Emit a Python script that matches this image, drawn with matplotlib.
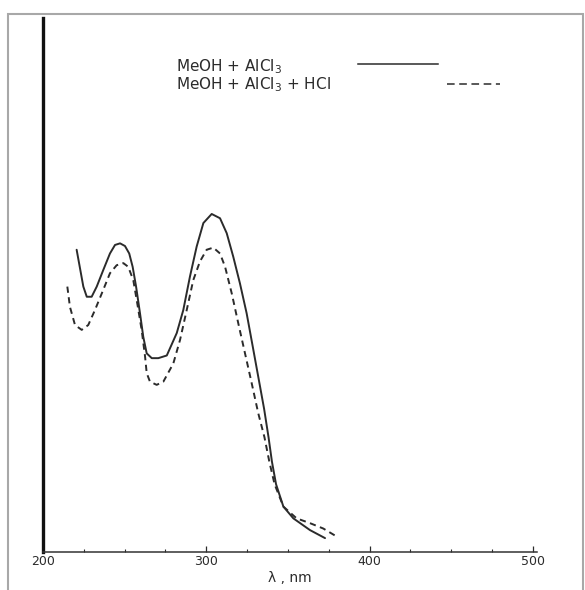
import numpy as np
import matplotlib.pyplot as plt
from matplotlib.patches import Rectangle


# =========================
# 1. data
# =========================

# MeOH + AlCl3 (solid)
wl_alcl3 = [220.6, 224.7, 226.8, 229.8, 232.9, 236.9, 241.0, 244.1, 247.2,
            250.2, 252.8, 254.9, 257.0, 259.4, 261.4, 263.5, 266.6, 270.6,
            275.8, 281.9, 285.9, 290.0, 294.1, 298.2, 303.3, 308.4, 312.5,
            316.5, 320.6, 324.7, 328.6, 332.3, 335.4, 338.1, 340.2, 342.7,
            347.2, 353.3, 363.5, 372.7]
abs_alcl3 = [0.566, 0.497, 0.478, 0.478, 0.497, 0.528, 0.559, 0.575, 0.578,
             0.573, 0.559, 0.534, 0.497, 0.447, 0.403, 0.372, 0.363, 0.363,
             0.368, 0.410, 0.453, 0.516, 0.572, 0.616, 0.633, 0.625, 0.597,
             0.553, 0.503, 0.447, 0.382, 0.320, 0.268, 0.215, 0.169, 0.127,
             0.085, 0.063, 0.041, 0.026]

# MeOH + AlCl3 + HCl (dashed)
wl_hcl = [214.9, 216.5, 219.6, 223.7, 227.7, 231.8, 236.9, 241.0, 245.1,
          249.2, 252.2, 255.3, 257.7, 260.4, 262.5, 263.5, 265.5, 269.6,
          273.7, 279.8, 283.9, 288.0, 292.0, 296.1, 300.2, 304.3, 308.4,
          311.5, 315.6, 319.6, 323.7, 327.8, 331.8, 335.6, 338.6, 341.8,
          347.2, 355.3, 363.5, 371.6, 379.8]
abs_hcl = [0.497, 0.459, 0.425, 0.416, 0.425, 0.453, 0.491, 0.522, 0.537,
           0.541, 0.534, 0.509, 0.466, 0.416, 0.366, 0.335, 0.319, 0.313,
           0.319, 0.353, 0.397, 0.453, 0.509, 0.544, 0.566, 0.570, 0.559,
           0.534, 0.484, 0.428, 0.372, 0.316, 0.260, 0.215, 0.169, 0.127,
           0.085, 0.063, 0.054, 0.044, 0.029]

major_ticks = [200, 300, 400, 500]
minor_ticks = [225, 250, 275, 325, 350, 375, 425, 450, 475]

label_alcl3 = "MeOH + AlCl$_3$"
label_hcl = "MeOH + AlCl$_3$ + HCl"
x_label = "λ , nm"

ink = "#2b2b2b"


# =========================
# 2. figure and axes
# =========================

fig = plt.figure(figsize=(5.85, 5.9), dpi=100)
ax = fig.add_axes([43 / 585, 38 / 590, 494 / 585, 534 / 590])

ax.plot(wl_alcl3, abs_alcl3, color=ink, lw=1.4,
        solid_joinstyle="round", solid_capstyle="round")
ax.plot(wl_hcl, abs_hcl, color=ink, lw=1.4, dashes=(3.2, 2.3))

ax.set_xlim(200, 502.5)
ax.set_ylim(0, 1.0)

for side in ["top", "right"]:
    ax.spines[side].set_visible(False)
ax.spines["left"].set_linewidth(2.4)
ax.spines["left"].set_color("#111111")
ax.spines["bottom"].set_linewidth(1.1)
ax.spines["bottom"].set_color("#333333")

ax.set_yticks([])
ax.set_xticks(major_ticks)
ax.set_xticks(minor_ticks, minor=True)
ax.tick_params(axis="x", which="major", direction="in", length=4, width=0.9,
               colors=ink, pad=2, labelsize=9)
ax.tick_params(axis="x", which="minor", direction="in", length=2, width=0.8,
               colors=ink)
ax.set_xlabel(x_label, fontsize=10, color=ink, labelpad=2)


# =========================
# 3. legend drawn by hand (text left, line sample right)
# =========================

ax.text(0.270, 0.908, label_alcl3, transform=ax.transAxes, fontsize=11,
        color=ink, va="center", ha="left")
ax.plot([0.638, 0.800], [0.913, 0.913], transform=ax.transAxes,
        color=ink, lw=1.1)

ax.text(0.270, 0.876, label_hcl, transform=ax.transAxes, fontsize=11,
        color=ink, va="center", ha="left")
ax.plot([0.818, 0.925], [0.876, 0.876], transform=ax.transAxes,
        color=ink, lw=1.1, dashes=(5, 3))


# =========================
# 4. grey scan frame
# =========================

fig.patches.append(Rectangle((8 / 585, -0.02), 575 / 585, 0.02 + 576 / 590,
                             transform=fig.transFigure, fill=False,
                             edgecolor="#a8a8a8", lw=1.5))

fig.savefig("out.png", dpi=100)
